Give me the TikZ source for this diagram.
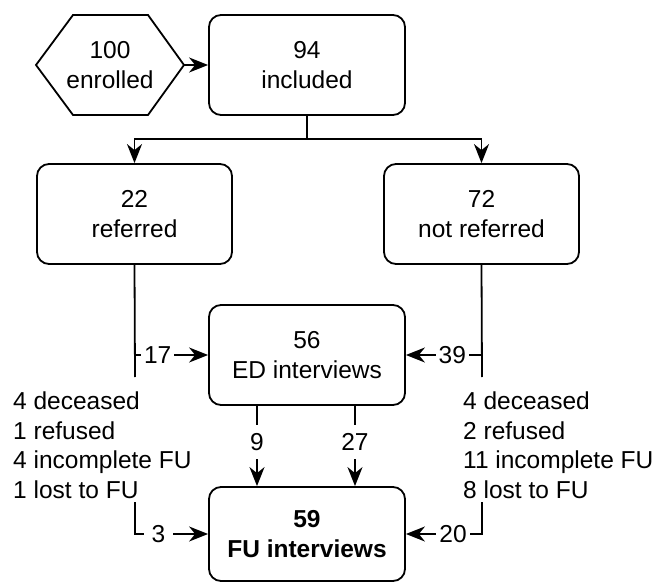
\documentclass[tikz,border=0pt]{standalone}
\usepackage{fontspec}
\setmainfont{Liberation Sans}
\usetikzlibrary{arrows.meta}
\begin{document}
\begin{tikzpicture}[x=1pt,y=-1pt,
  every node/.style={font=\fontsize{24.5}{29.5}\selectfont},
  box/.style={draw, line width=1.8pt, rounded corners=12pt, minimum width=196pt, minimum height=100pt, align=center, inner sep=0pt},
  conn/.style={line width=1.8pt},
  arr/.style={conn, -{Stealth[length=19pt,width=15pt,inset=6pt]}},
  lbl/.style={fill=white, inner xsep=3pt, inner ysep=0pt},
  vlbl/.style={fill=white, inner xsep=0pt, inner ysep=8pt}
]
\useasboundingbox (0,0) rectangle (659,583);
% hexagon
\node[align=center, inner sep=0pt] (enr) at (110,65) {100\\enrolled};
\draw[conn, line join=miter] (36,65) -- (73,15) -- (148,15) -- (184,65) -- (148,115) -- (73,115) -- cycle;
\coordinate (enrtip) at (184,65);
% boxes
\node[box] (inc) at (307,65) {94\\included};
\node[box, minimum width=195pt] (ref) at (134.5,214) {22\\referred};
\node[box, minimum width=195pt] (nref) at (481.5,214) {72\\not referred};
\node[box] (ed) at (307,355) {56\\ED interviews};
\node[box, minimum height=94pt] (fu) at (307,534) {\textbf{59}\\\textbf{FU interviews}};
% lists
\node[align=left, anchor=north west, inner sep=0pt] (lost1) at (13,392) {4 deceased\\1 refused\\4 incomplete FU\\1 lost to FU};
\node[align=left, anchor=north west, inner sep=0pt] (lost2) at (463,392) {4 deceased\\2 refused\\11 incomplete FU\\8 lost to FU};
% connectors
\draw[arr] (enrtip) -- (inc.west);
\coordinate (sp) at (307,139);
\draw[conn] (inc.south) -- (sp);
\draw[arr] (sp) -| (ref.north);
\draw[arr] (sp) -| (nref.north);
\coordinate (lend) at (135,377);
\coordinate (rend) at (482,377);
\coordinate (b17) at (135,355);
\coordinate (b39) at (482,355);
\draw[conn] (ref.south) -- (lend);
\draw[conn] (nref.south) -- (rend);
\draw[arr] (b17) -- node[lbl, pos=0.31] {17} (ed.west);
\draw[arr] (b39) -- node[lbl, pos=0.39] {39} (ed.east);
\draw[arr] ([xshift=-50pt]ed.south) -- node[vlbl, pos=0.45] {9} ([xshift=-50pt]fu.north);
\draw[arr] ([xshift=48pt]ed.south) -- node[vlbl, pos=0.45] {27} ([xshift=48pt]fu.north);
\coordinate (l3) at (135,502);
\coordinate (r20) at (482,502);
\draw[arr] (l3) |- node[lbl, inner xsep=8pt, pos=0.66] {3} (fu.west);
\draw[arr] (r20) |- node[lbl, pos=0.69] {20} (fu.east);
\end{tikzpicture}
\end{document}
